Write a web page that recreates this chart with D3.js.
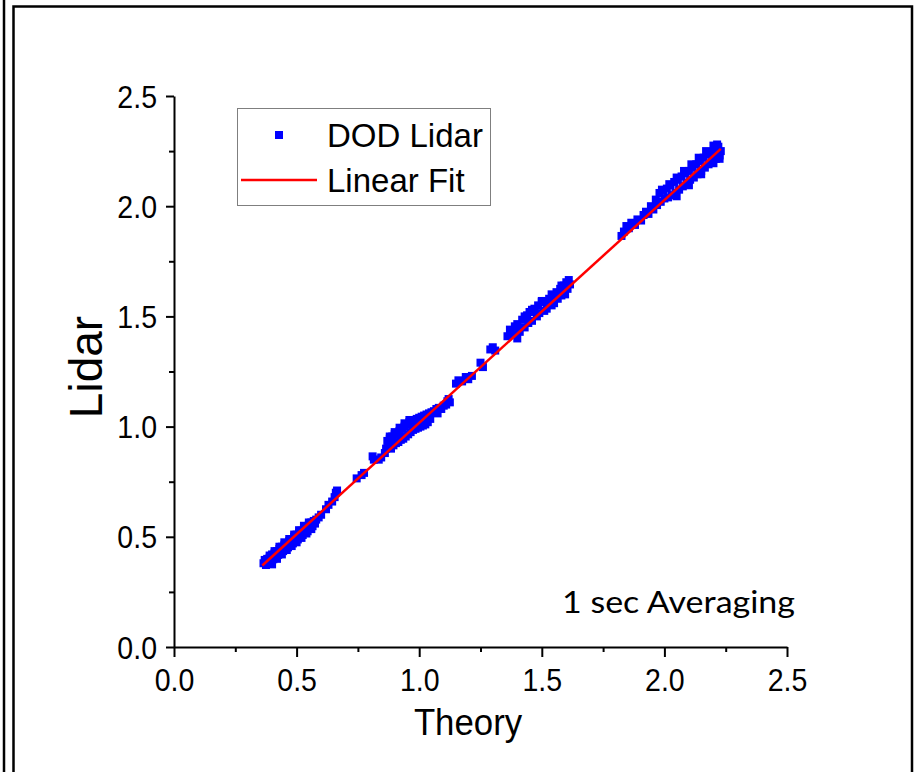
<!DOCTYPE html>
<html>
<head>
<meta charset="utf-8">
<script src="https://cdn.jsdelivr.net/npm/d3@7"></script>
<style>
body { margin: 0; background: #fff; }
svg { display: block; }
.tick text { font-family: "Liberation Sans", Arial, sans-serif; }
</style>
</head>
<body>
<div id="chart"></div>
<script>
// data
var theory = [
 0.365,0.370,0.375,0.380,0.385,0.390,0.395,0.400,0.405,0.410,0.415,0.420,0.425,0.430,0.435,0.440,0.445,0.450,0.455,0.460,
 0.465,0.470,0.475,0.480,0.485,0.490,0.495,0.500,0.505,0.510,0.515,0.520,0.525,0.530,0.535,0.540,0.545,0.550,0.555,0.560,
 0.565,0.570,0.575,0.580,0.590,
 0.600,0.620,0.630,0.645,0.655,0.660,0.665,
 0.745,0.765,0.775,
 0.810,0.815,0.835,0.845,
 0.860,0.865,0.870,0.875,0.880,0.885,0.890,0.895,0.900,0.905,0.910,0.915,0.920,0.925,0.930,0.935,0.940,0.945,0.950,0.955,
 0.960,0.965,0.970,0.975,0.980,0.985,0.990,0.995,1.000,1.005,1.010,1.015,1.020,1.025,1.030,1.035,1.040,1.045,1.050,1.060,
 1.070,1.075,1.080,1.090,1.100,1.110,1.115,1.120,1.125,
 1.150,1.160,1.175,1.190,1.200,1.215,
 1.250,1.260,1.290,1.300,1.310,
 1.360,1.370,1.380,1.390,1.400,1.400,1.410,1.420,1.430,1.440,1.445,1.450,1.460,1.470,1.480,1.485,1.490,1.500,1.510,1.515,
 1.520,1.530,1.540,1.545,1.550,1.560,1.565,1.575,1.580,1.590,1.595,1.600,1.605,1.610,1.615,
 1.825,1.835,1.845,1.855,1.865,1.880,1.890,1.905,1.915,1.925,1.935,1.945,1.955,1.965,1.970,1.980,1.985,1.995,2.000,2.010,
 2.015,2.025,2.030,2.040,2.045,2.055,2.060,2.070,2.075,2.085,2.090,2.100,2.105,2.115,2.120,2.130,2.135,2.145,2.150,2.160,
 2.165,2.175,2.180,2.190,2.195,2.205,2.210,2.220,2.225,2.230,
 0.400,0.420,0.440,0.460,0.480,0.500,0.520,0.540,0.560,
 0.390,0.410,0.430,0.450,0.470,0.490,0.510,0.530,0.550,
 0.880,0.900,0.920,0.940,0.960,
 1.430,1.460,1.500,1.540,1.580,
 1.990,2.020,2.050,2.080,2.110,2.140,2.170,2.200,2.215,
 2.050,2.100,2.150,2.200,2.225
];
var lidar = [
 0.380,0.395,0.372,0.400,0.385,0.405,0.392,0.420,0.398,0.425,0.410,0.435,0.418,0.445,0.425,0.455,0.435,0.462,0.445,0.470,
 0.452,0.480,0.460,0.490,0.470,0.500,0.478,0.510,0.488,0.518,0.498,0.528,0.508,0.538,0.518,0.548,0.525,0.555,0.540,0.565,
 0.548,0.572,0.560,0.578,0.588,
 0.600,0.625,0.645,0.660,0.680,0.700,0.710,
 0.765,0.780,0.790,
 0.865,0.850,0.850,0.860,
 0.880,0.900,0.935,0.910,0.945,0.900,0.955,0.915,0.965,0.925,0.970,0.930,0.980,0.940,0.990,0.945,1.000,0.955,1.010,0.965,
 1.020,0.975,1.025,0.985,1.030,0.990,1.035,0.995,1.040,1.000,1.045,1.005,1.050,1.010,1.055,1.020,1.060,1.035,1.065,1.070,
 1.080,1.060,1.085,1.080,1.095,1.100,1.115,1.125,1.110,
 1.195,1.210,1.205,1.225,1.215,1.230,
 1.290,1.270,1.350,1.360,1.345,
 1.410,1.440,1.420,1.455,1.400,1.465,1.430,1.485,1.450,1.505,1.470,1.520,1.480,1.535,1.500,1.550,1.515,1.565,1.525,1.570,
 1.535,1.580,1.550,1.595,1.560,1.610,1.580,1.625,1.595,1.640,1.600,1.655,1.625,1.665,1.645,
 1.865,1.885,1.910,1.900,1.925,1.915,1.940,1.935,1.960,1.975,1.965,2.000,1.985,2.030,2.005,2.060,2.020,2.070,2.035,2.080,
 2.040,2.095,2.050,2.110,2.060,2.120,2.075,2.135,2.090,2.150,2.105,2.160,2.120,2.175,2.130,2.190,2.145,2.205,2.160,2.220,
 2.175,2.235,2.190,2.245,2.205,2.260,2.215,2.270,2.230,2.250,
 0.375,0.400,0.420,0.440,0.458,0.475,0.495,0.515,0.535,
 0.415,0.435,0.455,0.475,0.490,0.510,0.530,0.550,0.565,
 0.955,0.975,0.995,1.015,1.030,
 1.500,1.530,1.570,1.600,1.640,
 2.075,2.100,2.130,2.160,2.190,2.220,2.250,2.275,2.280,
 2.045,2.095,2.145,2.195,2.215
];
var fitX = [0.36, 2.23];
var fitY = [0.370, 2.260];
var majorTicks = [0, 0.5, 1.0, 1.5, 2.0, 2.5];
var minorTicks = [0.25, 0.75, 1.25, 1.75, 2.25];
var legendLabels = ["DOD Lidar", "Linear Fit"];

var W = 920, H = 772;
var x0 = 174, x1 = 787, y0 = 647, y1 = 96;
var sx = 0.92; // the original text is a bit narrow

var svg = d3.select("#chart").append("svg")
    .attr("width", W)
    .attr("height", H);

svg.append("rect").attr("width", W).attr("height", H).attr("fill", "#fff");

// page frame
svg.append("line").attr("x1", 4).attr("x2", 4).attr("y1", 0).attr("y2", H)
    .attr("stroke", "#000").attr("stroke-width", 2.5);
svg.append("path")
    .attr("d", "M13.5," + (H + 5) + " L13.5,6.5 L912,6.5 L912," + (H + 5))
    .attr("fill", "none").attr("stroke", "#000").attr("stroke-width", 2.5);

var x = d3.scaleLinear().domain([0, 2.5]).range([x0, x1]);
var y = d3.scaleLinear().domain([0, 2.5]).range([y0, y1]);

// minor ticks first
svg.append("g").attr("transform", "translate(0," + y0 + ")")
    .call(d3.axisBottom(x).tickValues(minorTicks).tickSize(5).tickFormat(""))
    .call(function(g){ g.select(".domain").remove(); })
    .selectAll("line").attr("stroke-width", 2);
svg.append("g").attr("transform", "translate(" + x0 + ",0)")
    .call(d3.axisLeft(y).tickValues(minorTicks).tickSize(5).tickFormat(""))
    .call(function(g){ g.select(".domain").remove(); })
    .selectAll("line").attr("stroke-width", 2);

var xAxis = svg.append("g").attr("transform", "translate(0," + y0 + ")")
    .call(d3.axisBottom(x).tickValues(majorTicks).tickSize(10).tickSizeOuter(0)
        .tickFormat(d3.format(".1f")));
var yAxis = svg.append("g").attr("transform", "translate(" + x0 + ",0)")
    .call(d3.axisLeft(y).tickValues(majorTicks).tickSize(8).tickSizeOuter(0)
        .tickFormat(d3.format(".1f")));

[xAxis, yAxis].forEach(function(g){
    g.select(".domain").attr("stroke-width", 2);
    g.selectAll(".tick line").attr("stroke-width", 2);
    g.selectAll(".tick text").attr("font-size", 31).attr("fill", "#000")
        .attr("transform", "scale(" + sx + ",1)");
});
xAxis.selectAll(".tick text").attr("y", 44).attr("dy", 0);
yAxis.selectAll(".tick text").attr("x", -17 / sx).attr("dy", "0.36em");

// scatter
var pts = theory.map(function(t, i){ return [t, lidar[i]]; });
svg.append("g").selectAll("rect").data(pts).enter().append("rect")
    .attr("x", function(d){ return x(d[0]) - 4; })
    .attr("y", function(d){ return y(d[1]) - 4; })
    .attr("width", 8).attr("height", 8)
    .attr("fill", "#0000ff");

// fit line
svg.append("line")
    .attr("x1", x(fitX[0])).attr("y1", y(fitY[0]))
    .attr("x2", x(fitX[1])).attr("y2", y(fitY[1]))
    .attr("stroke", "#ff0000").attr("stroke-width", 2.5);

// axis titles
svg.append("text").attr("x", 468).attr("y", 735)
    .attr("text-anchor", "middle")
    .attr("font-family", "Liberation Sans, Arial, sans-serif")
    .attr("font-size", 37)
    .attr("transform", "translate(468,0) scale(0.94,1) translate(-468,0)")
    .text("Theory");
svg.append("text")
    .attr("transform", "translate(102,367) rotate(-90)")
    .attr("text-anchor", "middle")
    .attr("font-family", "Liberation Sans, Arial, sans-serif")
    .attr("font-size", 46)
    .text("Lidar");

// legend
var leg = svg.append("g");
leg.append("rect").attr("x", 237.5).attr("y", 108.5).attr("width", 253).attr("height", 97)
    .attr("fill", "#fff").attr("stroke", "#7f7f7f").attr("stroke-width", 1);
leg.append("rect").attr("x", 275).attr("y", 131).attr("width", 8).attr("height", 8).attr("fill", "#0000ff");
leg.append("line").attr("x1", 241).attr("x2", 317).attr("y1", 180).attr("y2", 180)
    .attr("stroke", "#ff0000").attr("stroke-width", 2.5);
leg.selectAll("text.lab").data(legendLabels).enter().append("text")
    .attr("class", "lab")
    .attr("x", 327)
    .attr("y", function(d, i){ return 147 + i * 45; })
    .attr("font-family", "Liberation Sans, Arial, sans-serif")
    .attr("font-size", 33)
    .text(function(d){ return d; });

svg.append("text").attr("x", 562).attr("y", 613)
    .attr("font-family", "Lato, 'Open Sans', sans-serif")
    .attr("font-size", 30)
    .attr("textLength", 233).attr("lengthAdjust", "spacingAndGlyphs")
    .text("1 sec Averaging");
</script>
</body>
</html>
